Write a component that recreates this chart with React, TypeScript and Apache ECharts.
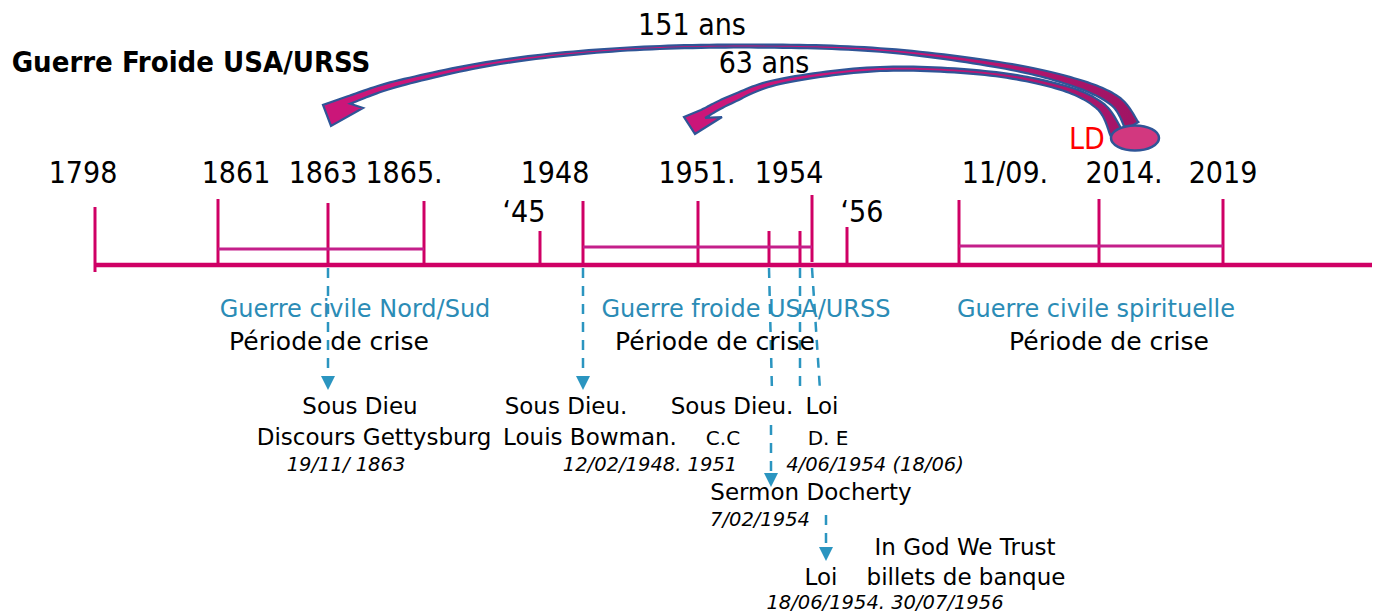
import React, { useEffect, useRef } from "react";
import * as echarts from "echarts";

const W = 1377;
const H = 613;

// ---------- timeline (schematic positions on the drawing's axis) ----------
const axisStart = 95;
const axisEnd = 1372;
const axisLevel = 265;

const tickX = [95, 218, 328, 424, 540, 583, 698, 769, 800, 812, 847, 959, 1099, 1223];
const tickTop = [207, 199, 203, 201, 231, 201, 201, 231, 231, 195, 227, 200, 199, 199];
const tickBottom = [272, 265, 265, 265, 265, 265, 265, 265, 265, 262, 265, 265, 265, 265];

const periodStart = [218, 583, 959];
const periodEnd = [424, 812, 1223];
const periodLevel = [249, 247, 246];

const yearLabels = ["1798", "1861", "1863", "1865.", "1948", "1951.", "1954", "11/09.", "2014.", "2019"];
const yearX = [83, 236, 323, 404, 555, 697, 789, 1005, 1124, 1223];
const shortYears = ["\u201845", "\u201856"];
const shortYearX = [524, 862];

// ---------- connectors (dashed blue) ----------
const connFrom = [[328, 268], [583, 268], [769, 268], [771, 425], [800, 268], [812, 268], [826, 515]];
const connTo = [[328, 376], [583, 376], [772, 392], [771, 473], [800, 388], [820, 390], [826, 547]];
const connArrow = [1, 1, 0, 1, 0, 0, 1];

// ---------- texts ----------
const labelTexts = [
  "Guerre Froide USA/URSS", "151 ans", "63 ans", "LD",
  "Guerre civile Nord/Sud", "Guerre froide USA/URSS", "Guerre civile spirituelle",
  "Période de crise", "Période de crise", "Période de crise",
  "Sous Dieu", "Discours Gettysburg", "19/11/ 1863",
  "Sous Dieu.", "Louis Bowman.", "C.C", "12/02/1948. 1951",
  "Sous Dieu.", "Loi", "D. E", "4/06/1954 (18/06)",
  "Sermon Docherty", "7/02/1954",
  "In God We Trust", "Loi", "billets de banque", "18/06/1954. 30/07/1956",
];
const labelX = [
  191, 692, 764, 1087,
  355, 746, 1096,
  329, 715, 1109,
  360, 374, 346,
  566, 590, 723, 650,
  732, 822, 828, 875,
  811, 760,
  965, 821, 966, 885,
];
const labelY = [
  62, 24, 62, 138,
  309, 309, 309,
  341, 341, 341,
  406, 437, 464,
  406, 437, 438, 464,
  406, 406, 438, 464,
  492, 519,
  547, 577, 577, 602,
];
const labelKind = [
  "title", "cond", "cond", "red",
  "blue", "blue", "blue",
  "crise", "crise", "crise",
  "body", "body", "date",
  "body", "body", "small", "date",
  "body", "body", "small", "date",
  "body", "date",
  "body", "body", "body", "date",
];

// all texts gathered (built from the arrays above)
const allTexts: string[] = [...yearLabels, ...shortYears, ...labelTexts];
const allX: number[] = [...yearX, ...shortYearX, ...labelX];
const allY: number[] = [...yearLabels.map(() => 172), ...shortYears.map(() => 211), ...labelY];
const allKind: string[] = [...yearLabels.map(() => "cond"), ...shortYears.map(() => "cond"), ...labelKind];

// ---------- curved arrows (decorative outlines: centre line + thickness) ----------
const arrow1Center = [[349, 100], [400, 83], [500, 62], [620, 49.5], [750, 46], [880, 50], [1000, 65], [1073, 82], [1115, 101], [1132, 126]];
const arrow1Width = [8, 6, 4, 3, 3, 3.5, 5.5, 8, 11, 15];
const arrow1Head = [[363, 108], [331, 126], [323, 105]];

const arrow2Center = [[703, 114], [730, 100], [780, 81.5], [880, 69], [985, 73], [1060, 87], [1100, 106], [1116, 132]];
const arrow2Width = [9, 7.5, 5, 4, 4, 5, 8, 13];
const arrow2Head = [[722, 117], [695, 134], [684, 117]];

const COND = "'DejaVu Sans Condensed', 'Liberation Sans Narrow', 'DejaVu Sans', sans-serif";
const SANS = "'DejaVu Sans', Tahoma, Verdana, sans-serif";
const kindStyle: Record<string, any> = {
  title: { size: 29, family: COND, weight: "bold", style: "normal", color: "#000000" },
  cond: { size: 30, family: COND, weight: "normal", style: "normal", color: "#000000" },
  red: { size: 30, family: COND, weight: "normal", style: "normal", color: "#ff0000" },
  blue: { size: 24, family: SANS, weight: "normal", style: "normal", color: "#2b8cb6" },
  crise: { size: 25, family: SANS, weight: "normal", style: "normal", color: "#000000" },
  body: { size: 23, family: SANS, weight: "normal", style: "normal", color: "#000000" },
  small: { size: 20, family: SANS, weight: "normal", style: "normal", color: "#000000" },
  date: { size: 19.5, family: SANS, weight: "normal", style: "italic", color: "#000000" },
};

const PINK = "#cf0065";
const BRACKET = "#c41f8a";
const BLUE = "#2b95c0";
const OUTLINE = "#2f5597";

function smoothCenter(pts: number[][], widths: number[], n = 16) {
  const out: number[][] = [];
  const ws: number[] = [];
  for (let i = 0; i < pts.length - 1; i++) {
    const p0 = pts[Math.max(0, i - 1)];
    const p1 = pts[i];
    const p2 = pts[i + 1];
    const p3 = pts[Math.min(pts.length - 1, i + 2)];
    for (let k = 0; k < n; k++) {
      const t = k / n;
      const t2 = t * t;
      const t3 = t2 * t;
      const f = (a: number, b: number, c: number, d: number) =>
        0.5 * (2 * b + (-a + c) * t + (2 * a - 5 * b + 4 * c - d) * t2 + (-a + 3 * b - 3 * c + d) * t3);
      out.push([f(p0[0], p1[0], p2[0], p3[0]), f(p0[1], p1[1], p2[1], p3[1])]);
      ws.push(widths[i] + (widths[i + 1] - widths[i]) * t);
    }
  }
  out.push(pts[pts.length - 1]);
  ws.push(widths[widths.length - 1]);
  return { out, ws };
}

function arrowPoints(center: number[][], widths: number[], head: number[][]) {
  const { out, ws } = smoothCenter(center, widths);
  const upper: number[][] = [];
  const lower: number[][] = [];
  for (let i = 0; i < out.length; i++) {
    const a = out[Math.max(0, i - 1)];
    const b = out[Math.min(out.length - 1, i + 1)];
    let dx = b[0] - a[0];
    let dy = b[1] - a[1];
    const len = Math.sqrt(dx * dx + dy * dy) || 1;
    dx /= len;
    dy /= len;
    const nx = dy;
    const ny = -dx;
    const h = ws[i] / 2;
    upper.push([out[i][0] + nx * h, out[i][1] + ny * h]);
    lower.push([out[i][0] - nx * h, out[i][1] - ny * h]);
  }
  return [...upper, ...lower.reverse(), ...head];
}

export default function App() {
  const ref = useRef<HTMLDivElement>(null);

  useEffect(() => {
    if (!ref.current) return;
    const chart = echarts.init(ref.current, undefined, { renderer: "svg" });

    const grad1 = new echarts.graphic.LinearGradient(880, 0, 1140, 0, [
      { offset: 0, color: "#cb1679" },
      { offset: 1, color: "#9e1463" },
    ], true);
    const grad2 = new echarts.graphic.LinearGradient(900, 0, 1120, 0, [
      { offset: 0, color: "#cb1679" },
      { offset: 1, color: "#a51568" },
    ], true);

    const option: any = {
      animation: false,
      backgroundColor: "#ffffff",
      grid: { left: 0, right: 0, top: 0, bottom: 0 },
      xAxis: { type: "value", min: 0, max: W, show: false },
      yAxis: { type: "value", min: 0, max: H, inverse: true, show: false },
      graphic: [
        {
          type: "polygon",
          z: 20,
          shape: { points: arrowPoints(arrow1Center, arrow1Width, arrow1Head) },
          style: { fill: grad1, stroke: OUTLINE, lineWidth: 2.2, lineJoin: "miter" },
        },
        {
          type: "polygon",
          z: 21,
          shape: { points: arrowPoints(arrow2Center, arrow2Width, arrow2Head) },
          style: { fill: grad2, stroke: OUTLINE, lineWidth: 2.2, lineJoin: "miter" },
        },
        {
          type: "ellipse",
          z: 22,
          shape: { cx: 1135, cy: 138, rx: 24, ry: 12.5 },
          style: { fill: "#d2387f", stroke: OUTLINE, lineWidth: 2.5 },
        },
      ],
      series: [
        {
          type: "line",
          data: [[axisStart, axisLevel], [axisEnd, axisLevel]],
          symbol: "none",
          lineStyle: { color: PINK, width: 4.5 },
          silent: true,
          z: 3,
        },
        {
          type: "custom",
          coordinateSystem: "cartesian2d",
          clip: false,
          silent: true,
          z: 3,
          encode: { x: 0, y: [1, 2] },
          data: tickX.map((x, i) => [x, tickTop[i], tickBottom[i]]),
          renderItem: (params: any, api: any) => {
            const a = api.coord([api.value(0), api.value(1)]);
            const b = api.coord([api.value(0), api.value(2)]);
            return {
              type: "line",
              shape: { x1: a[0], y1: a[1], x2: b[0], y2: b[1] },
              style: { stroke: PINK, lineWidth: 3 },
            };
          },
        },
        {
          type: "custom",
          coordinateSystem: "cartesian2d",
          clip: false,
          silent: true,
          z: 3,
          encode: { x: [0, 1], y: 2 },
          data: periodStart.map((s, i) => [s, periodEnd[i], periodLevel[i]]),
          renderItem: (params: any, api: any) => {
            const a = api.coord([api.value(0), api.value(2)]);
            const b = api.coord([api.value(1), api.value(2)]);
            return {
              type: "line",
              shape: { x1: a[0], y1: a[1], x2: b[0], y2: b[1] },
              style: { stroke: BRACKET, lineWidth: 3 },
            };
          },
        },
        {
          type: "custom",
          coordinateSystem: "cartesian2d",
          clip: false,
          silent: true,
          z: 4,
          encode: { x: [0, 2], y: [1, 3] },
          data: connFrom.map((f, i) => [f[0], f[1], connTo[i][0], connTo[i][1], connArrow[i]]),
          renderItem: (params: any, api: any) => {
            const a = api.coord([api.value(0), api.value(1)]);
            const b = api.coord([api.value(2), api.value(3)]);
            const children: any[] = [
              {
                type: "line",
                shape: { x1: a[0], y1: a[1], x2: b[0], y2: b[1] },
                style: { stroke: BLUE, lineWidth: 2.5, lineDash: [10, 8] },
              },
            ];
            if (api.value(4)) {
              const dx = b[0] - a[0];
              const dy = b[1] - a[1];
              const len = Math.sqrt(dx * dx + dy * dy) || 1;
              const ux = dx / len;
              const uy = dy / len;
              const hl = 14;
              const hw = 7;
              children.push({
                type: "polygon",
                shape: {
                  points: [
                    [b[0] - uy * hw, b[1] + ux * hw],
                    [b[0] + ux * hl, b[1] + uy * hl],
                    [b[0] + uy * hw, b[1] - ux * hw],
                  ],
                },
                style: { fill: BLUE },
              });
            }
            return { type: "group", children };
          },
        },
        {
          type: "custom",
          coordinateSystem: "cartesian2d",
          clip: false,
          silent: true,
          z: 5,
          encode: { x: 0, y: 1 },
          data: allTexts.map((t, i) => [allX[i], allY[i], i]),
          renderItem: (params: any, api: any) => {
            const p = api.coord([api.value(0), api.value(1)]);
            const i = api.value(2) as number;
            const s = kindStyle[allKind[i]] || kindStyle.body;
            return {
              type: "text",
              x: p[0],
              y: p[1],
              style: {
                text: allTexts[i],
                fill: s.color,
                fontSize: s.size,
                fontFamily: s.family,
                fontWeight: s.weight,
                fontStyle: s.style,
                align: "center",
                verticalAlign: "middle",
              },
            };
          },
        },
      ],
    };

    chart.setOption(option);
    return () => chart.dispose();
  }, []);

  return (
    <div
      ref={ref}
      style={{ position: "fixed", left: 0, top: 0, width: W, height: H, background: "#ffffff" }}
    />
  );
}
